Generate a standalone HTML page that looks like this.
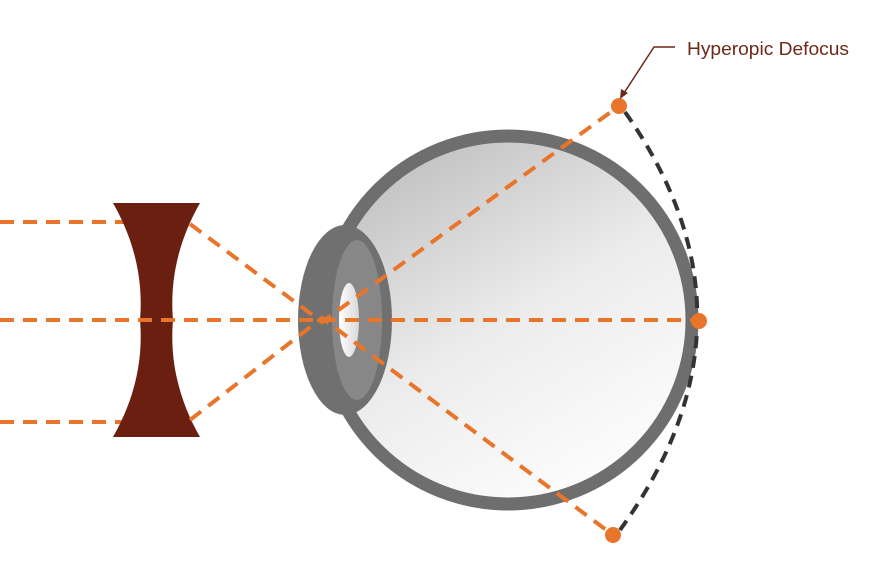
<!DOCTYPE html>
<html><head><style>body{margin:0;background:#fff}svg{display:block}</style></head><body>
<svg width="870" height="580" viewBox="0 0 870 580" xmlns="http://www.w3.org/2000/svg">
<defs>
<linearGradient id="g" x1="0.2" y1="0" x2="0.8" y2="1">
<stop offset="0" stop-color="#bdbdbd"/><stop offset="0.5" stop-color="#ececec"/><stop offset="1" stop-color="#ffffff"/></linearGradient>
<linearGradient id="p" x1="0" y1="0" x2="1" y2="0"><stop offset="0" stop-color="#fff"/><stop offset="1" stop-color="#d8d8d8"/></linearGradient>
</defs>
<circle cx="508" cy="320" r="184" fill="url(#g)" stroke="#6e6e6e" stroke-width="13"/>
<ellipse cx="345" cy="320" rx="47" ry="95" fill="#707070"/>
<ellipse cx="357" cy="320" rx="25" ry="80" fill="#878787"/>
<ellipse cx="349" cy="320" rx="10" ry="37" fill="url(#p)"/>
<g stroke="#e8752a" stroke-width="4" stroke-dasharray="14,9" fill="none">
<line x1="0" y1="222" x2="125" y2="222"/>
<line x1="0" y1="422" x2="125" y2="422"/>
</g>
<path d="M113,203 L200,203 C176,245 170,285 173,320 C170,355 176,395 200,437 L113,437 C137,395 143,355 140,320 C143,285 137,245 113,203 Z" fill="#6a1f10"/>
<g stroke="#e8752a" stroke-width="4" stroke-dasharray="14,9" fill="none">
<line x1="0" y1="320" x2="695" y2="320"/>
<path d="M190,224 L322,322 L619,106"/>
<path d="M190,420 L322,318 L613,535"/>
</g>
<path d="M625,112 Q772,320 620,530" stroke="#333" stroke-width="4" stroke-dasharray="12,8" fill="none"/>
<circle cx="619" cy="106" r="8" fill="#e8752a"/>
<circle cx="699" cy="321" r="8" fill="#e8752a"/>
<circle cx="613" cy="535" r="8" fill="#e8752a"/>
<polyline points="675,47 654,47 624,93" stroke="#6b2a1a" stroke-width="1.5" fill="none"/>
<polygon points="620,99 621,89 628,93" fill="#6b2a1a"/>
<text x="687" y="55" font-family="Liberation Sans Narrow, Liberation Sans, sans-serif" font-size="18" fill="#6b2a1a" textLength="162" lengthAdjust="spacingAndGlyphs">Hyperopic Defocus</text>
</svg>
</body></html>
